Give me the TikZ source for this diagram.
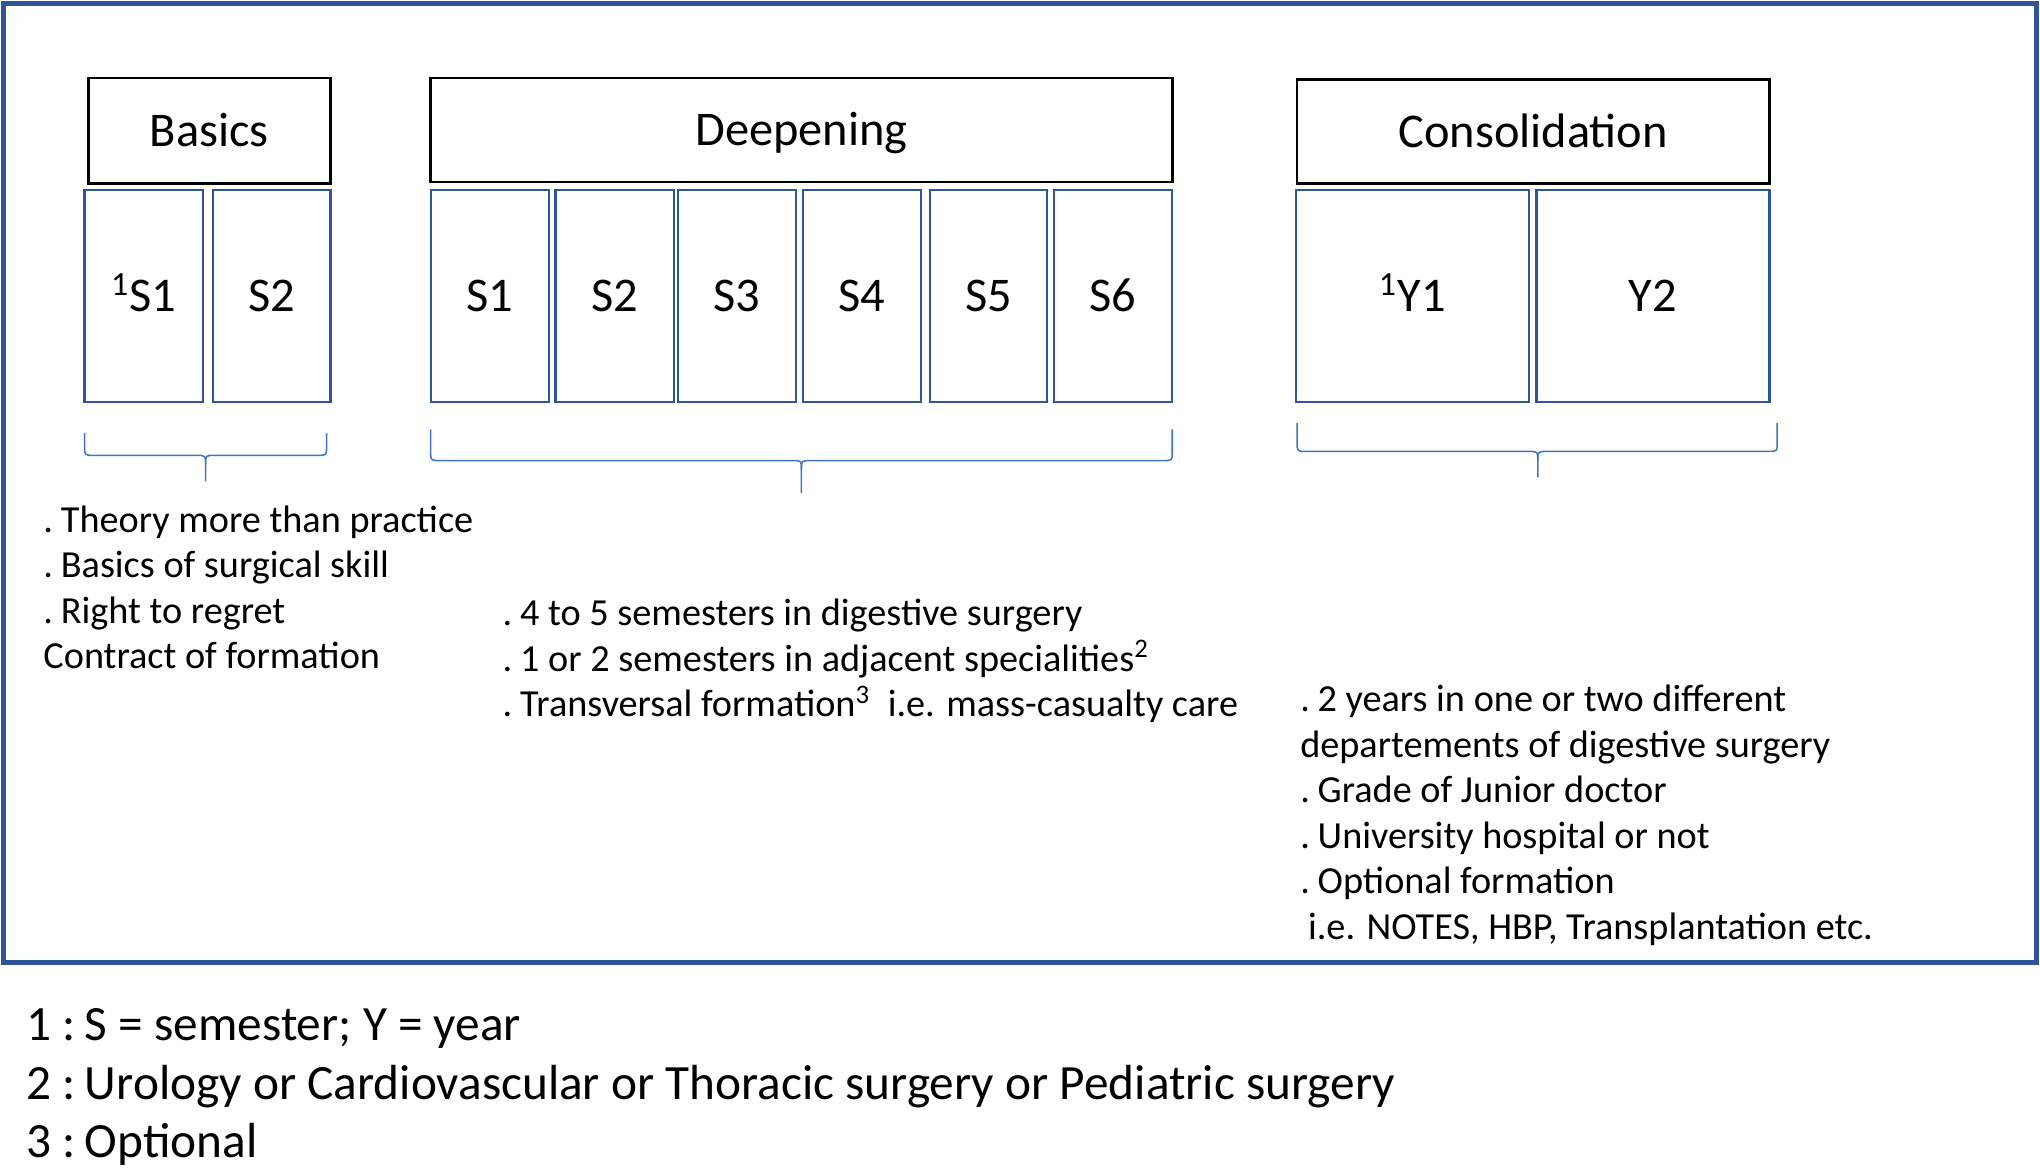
\documentclass[tikz,border=0pt]{standalone}
\usepackage{fontspec}
\setmainfont{Carlito}
\definecolor{frameblue}{HTML}{2F5597}
\definecolor{braceblue}{HTML}{4472C4}
\tikzset{
  big/.style={font=\fontsize{18.6}{22.3}\selectfont},
  small/.style={font=\fontsize{14.7}{17.5}\selectfont},
  headbox/.style={draw=black, line width=1pt, inner sep=0pt, big, text height=12pt, text depth=0pt, minimum height=40pt},
  sembox/.style={draw=frameblue, line width=0.85pt, inner sep=0pt, big, text height=12pt, text depth=0pt, minimum height=81.5pt},
  bracepath/.style={draw=braceblue, line width=0.6pt},
  lst/.style={small, anchor=base west, inner sep=0pt},
  foot/.style={font=\fontsize{18.95}{22.5}\selectfont, anchor=base west, inner sep=0pt},
}
\begin{document}
\begin{tikzpicture}[x=0.5pt,y=-0.5pt]
\useasboundingbox (0,0) rectangle (1568,902.4);
% outer frame
\draw[frameblue, line width=1.9pt] (3,3) rectangle (1565,740);
% headers
\node[headbox, minimum width=93pt, minimum height=40.5pt] (basics) at (161,100.5) {Basics};
\node[headbox, minimum width=285pt] (deep) at (616,100) {Deepening};
\node[headbox, minimum width=181.5pt] (cons) at (1178.5,101) {Consolidation};
% semester boxes
\node[sembox, minimum width=45.5pt] (bs1) at (110.5,227.5) {\textsuperscript{1}S1};
\node[sembox, minimum width=45pt] (bs2) at (209,227.5) {S2};
\node[sembox, minimum width=45.5pt] (ds1) at (376.5,227.5) {S1};
\node[sembox, minimum width=45.5pt] (ds2) at (472.5,227.5) {S2};
\node[sembox, minimum width=45.5pt] (ds3) at (566.5,227.5) {S3};
\node[sembox, minimum width=45.5pt] (ds4) at (662.5,227.5) {S4};
\node[sembox, minimum width=45pt] (ds5) at (760,227.5) {S5};
\node[sembox, minimum width=45.5pt] (ds6) at (855.5,227.5) {S6};
\node[sembox, minimum width=89.5pt] (cy1) at (1085.5,227.5) {\textsuperscript{1}Y1};
\node[sembox, minimum width=89.5pt] (cy2) at (1270.5,227.5) {Y2};
% braces
\draw[bracepath] (65,333) -- (65,343) .. controls (65,350) .. (72,350) -- (151,350)
  .. controls (158,350) .. (158,357) -- (158,370);
\draw[bracepath] (158,357) .. controls (158,350) .. (165,350) -- (244,350)
  .. controls (251,350) .. (251,343) -- (251,333);
\draw[bracepath] (331,330) -- (331,347) .. controls (331,354) .. (338,354) -- (609,354)
  .. controls (616,354) .. (616,361) -- (616,379);
\draw[bracepath] (616,361) .. controls (616,354) .. (623,354) -- (894,354)
  .. controls (901,354) .. (901,347) -- (901,330);
\draw[bracepath] (997,325) -- (997,340) .. controls (997,347) .. (1004,347) -- (1175,347)
  .. controls (1182,347) .. (1182,354) -- (1182,367);
\draw[bracepath] (1182,354) .. controls (1182,347) .. (1189,347) -- (1359,347)
  .. controls (1366,347) .. (1366,340) -- (1366,325);
% basics list
\node[lst] (bl1) at (33,409) {.\kern3pt Theory more than practice};
\node[lst] (bl2) at (33,444) {.\kern3pt Basics of surgical skill};
\node[lst] (bl3) at (33,479) {.\kern3pt Right to regret};
\node[lst] (bl4) at (33,514) {Contract of formation};
% deepening list
\node[lst] (dl1) at (386,481) {.\kern3pt 4 to 5 semesters in digestive surgery};
\node[lst] (dl2) at (386,516) {.\kern3pt 1 or 2 semesters in adjacent specialities\textsuperscript{2}};
\node[lst] (dl3) at (386,551) {.\kern3pt Transversal formation\textsuperscript{3}\ \ i.e. mass-casualty care};
% consolidation list
\node[lst] (cl1) at (999,547) {.\kern3pt 2 years in one or two different};
\node[lst] (cl2) at (999,582) {departements of digestive surgery};
\node[lst] (cl3) at (999,617) {.\kern3pt Grade of Junior doctor};
\node[lst] (cl4) at (999,652) {.\kern3pt University hospital or not};
\node[lst] (cl5) at (999,687) {.\kern3pt Optional formation};
\node[lst] (cl6) at (1005,722) {i.e. NOTES, HBP, Transplantation etc.};
% footnotes
\node[foot] (f1) at (20,800) {1 :\kern3.5pt S = semester; Y = year};
\node[foot] (f2) at (20,845) {2 :\kern3.5pt Urology or Cardiovascular or Thoracic surgery or Pediatric surgery};
\node[foot] (f3) at (20,890) {3 :\kern3.5pt Optional};
\end{tikzpicture}
\end{document}
